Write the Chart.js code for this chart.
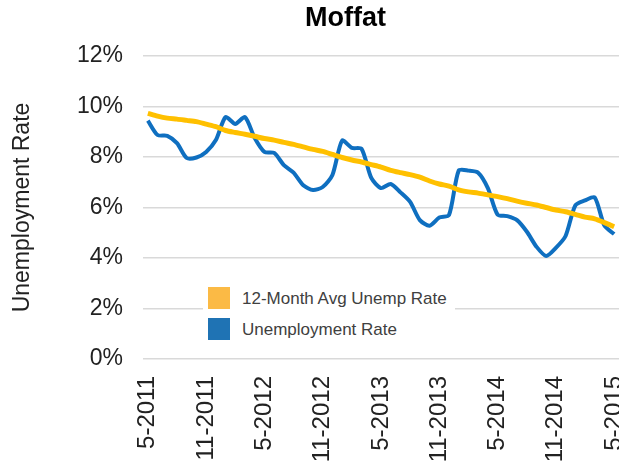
<!DOCTYPE html>
<html>
<head>
  <title>Moffat</title>
  <script src="https://cdn.jsdelivr.net/npm/chart.js@4.4.1/dist/chart.umd.min.js"></script>
  <style>
    body { margin: 0; background: #fff; }
    #wrap { position: relative; width: 619px; height: 463px; font-family: "Liberation Sans", Arial, sans-serif; }
    #chart { position: absolute; top: 0; left: 0; }
    #title {
      position: absolute; left: 245px; top: 4px; width: 201px;
      text-align: center; font-weight: bold; font-size: 27px; line-height: 27px; color: #000;
    }
    #legend {
      position: absolute; left: 203px; top: 283px; width: 252px; height: 62px;
      background: #fff; color: #404040; font-size: 17px;
    }
    .item { position: absolute; left: 5px; height: 22px; }
    .item span.box { position: absolute; left: 0; top: 0; width: 22px; height: 22px; }
    .item span.txt { position: absolute; left: 34px; top: 1px; white-space: nowrap; line-height: 22px; }
  </style>
</head>
<body>
<div id="wrap">
  <canvas id="chart" width="619" height="463"></canvas>
  <div id="title">Moffat</div>
  <div id="legend">
    <div class="item" style="top:4px"><span class="box" style="background:#FBBA45"></span><span class="txt">12-Month Avg Unemp Rate</span></div>
    <div class="item" style="top:35px"><span class="box" style="background:#1F73B4"></span><span class="txt">Unemployment Rate</span></div>
  </div>
</div>
<script>
  // monthly, 5-2011 .. 5-2015
  var months = [
    '5-2011','6-2011','7-2011','8-2011','9-2011','10-2011','11-2011','12-2011',
    '1-2012','2-2012','3-2012','4-2012','5-2012','6-2012','7-2012','8-2012','9-2012','10-2012','11-2012','12-2012',
    '1-2013','2-2013','3-2013','4-2013','5-2013','6-2013','7-2013','8-2013','9-2013','10-2013','11-2013','12-2013',
    '1-2014','2-2014','3-2014','4-2014','5-2014','6-2014','7-2014','8-2014','9-2014','10-2014','11-2014','12-2014',
    '1-2015','2-2015','3-2015','4-2015','5-2015'
  ];
  var unempRate = [
    9.44, 8.87, 8.84, 8.55, 7.96, 7.98, 8.20, 8.67, 9.58, 9.31, 9.58, 8.75,
    8.20, 8.16, 7.68, 7.38, 6.88, 6.69, 6.81, 7.29, 8.65, 8.36, 8.32, 7.17,
    6.77, 6.93, 6.60, 6.22, 5.50, 5.28, 5.60, 5.70, 7.46, 7.46, 7.38, 6.77,
    5.72, 5.66, 5.50, 5.05, 4.45, 4.08, 4.40, 4.87, 6.08, 6.28, 6.40, 5.28,
    4.95
  ];
  var avgRate = [
    9.73, 9.62, 9.54, 9.50, 9.45, 9.40, 9.30, 9.20, 9.05, 8.97, 8.90, 8.82,
    8.73, 8.67, 8.58, 8.50, 8.40, 8.30, 8.22, 8.10, 7.98, 7.88, 7.80, 7.70,
    7.60, 7.47, 7.38, 7.30, 7.20, 7.05, 6.93, 6.85, 6.70, 6.62, 6.57, 6.50,
    6.43, 6.35, 6.25, 6.17, 6.10, 6.00, 5.90, 5.83, 5.73, 5.62, 5.55, 5.40,
    5.24
  ];
  var yTicks = [0, 2, 4, 6, 8, 10, 12];

  var axisFont = { family: 'Liberation Sans', size: 23 };

  new Chart(document.getElementById('chart').getContext('2d'), {
    type: 'line',
    data: {
      labels: months,
      datasets: [{
        label: '12-Month Avg Unemp Rate',
        data: avgRate,
        borderColor: '#FFC000',
        borderWidth: 5,
        pointRadius: 0,
        tension: 0.25
      }, {
        label: 'Unemployment Rate',
        data: unempRate,
        borderColor: '#0F6FC0',
        borderWidth: 4,
        pointRadius: 0,
        tension: 0.25
      }]
    },
    options: {
      responsive: false,
      animation: false,
      layout: { padding: { top: 56, left: 0, right: 0, bottom: 0 } },
      plugins: { legend: { display: false }, title: { display: false }, tooltip: { enabled: false } },
      scales: {
        x: {
          offset: true,
          grid: { display: false },
          border: { display: false },
          ticks: {
            autoSkip: false,
            minRotation: 90,
            maxRotation: 90,
            padding: 9,
            color: '#222',
            font: { family: 'Liberation Sans', size: 24 },
            callback: function (v, i) { return i % 6 === 0 ? months[i] : ''; }
          },
          afterFit: function (s) { s.height = 104; s.paddingLeft = 0; s.paddingRight = 0; }
        },
        y: {
          min: 0,
          max: 12,
          afterBuildTicks: function (s) { s.ticks = yTicks.map(function (v) { return { value: v }; }); },
          grid: { color: '#d9d9d9', lineWidth: 1.5, drawTicks: false },
          border: { display: false },
          ticks: {
            padding: 20,
            color: '#222',
            font: axisFont,
            callback: function (v) { return v + '%'; }
          },
          title: {
            display: true,
            text: 'Unemployment Rate',
            color: '#222',
            font: axisFont,
            padding: { top: 9, bottom: 0 }
          },
          afterFit: function (s) { s.width = 143; }
        }
      }
    }
  });
</script>
</body>
</html>
